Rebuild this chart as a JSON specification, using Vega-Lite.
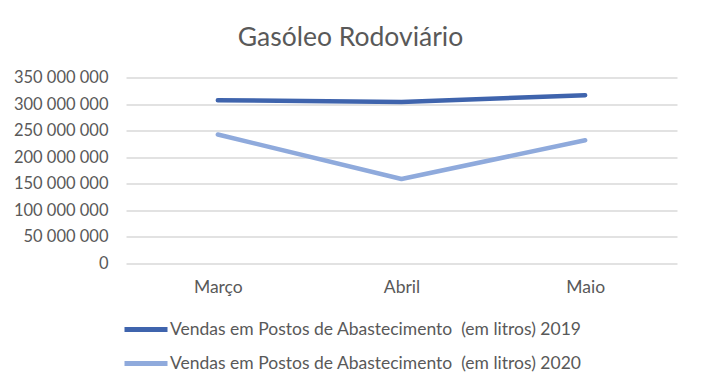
{
  "$schema": "https://vega.github.io/schema/vega-lite/v6.json",
  "width": 551,
  "height": 185.5,
  "autosize": {"type": "none"},
  "padding": {"left": 126, "top": 77.5, "right": 24, "bottom": 129},
  "background": "white",
  "title": {
    "text": "Gasóleo Rodoviário",
    "font": "Lato",
    "fontSize": 26.5,
    "fontWeight": "normal",
    "color": "#595959",
    "anchor": "middle",
    "dx": -51,
    "baseline": "alphabetic",
    "offset": -3
  },
  "data": {
    "values": [
      {"mes": "Março", "ordem": 1, "serie": "Vendas em Postos de Abastecimento \u00a0(em litros) 2019", "valor": 307000000},
      {"mes": "Abril", "ordem": 2, "serie": "Vendas em Postos de Abastecimento \u00a0(em litros) 2019", "valor": 304000000},
      {"mes": "Maio", "ordem": 3, "serie": "Vendas em Postos de Abastecimento \u00a0(em litros) 2019", "valor": 316500000},
      {"mes": "Março", "ordem": 1, "serie": "Vendas em Postos de Abastecimento \u00a0(em litros) 2020", "valor": 242500000},
      {"mes": "Abril", "ordem": 2, "serie": "Vendas em Postos de Abastecimento \u00a0(em litros) 2020", "valor": 158500000},
      {"mes": "Maio", "ordem": 3, "serie": "Vendas em Postos de Abastecimento \u00a0(em litros) 2020", "valor": 231500000}
    ]
  },
  "mark": {"type": "line", "strokeWidth": 4.5, "strokeCap": "round", "strokeJoin": "round"},
  "encoding": {
    "x": {
      "field": "mes",
      "type": "ordinal",
      "sort": ["Março", "Abril", "Maio"],
      "scale": {"paddingInner": 0, "paddingOuter": 0},
      "axis": {
        "title": null,
        "labelAngle": 0,
        "ticks": false,
        "domain": false,
        "grid": false,
        "labelFont": "Lato",
        "labelFontSize": 17.5,
        "labelColor": "#595959",
        "labelPadding": 15
      }
    },
    "y": {
      "field": "valor",
      "type": "quantitative",
      "scale": {"domain": [0, 350000000], "nice": false},
      "axis": {
        "title": null,
        "values": [0, 50000000, 100000000, 150000000, 200000000, 250000000, 300000000, 350000000],
        "labelExpr": "replace(format(datum.value, ','), /,/g, ' ')",
        "ticks": false,
        "domain": false,
        "gridColor": "#D9D9D9",
        "gridWidth": 1.3,
        "labelFont": "Lato",
        "labelFontSize": 16.5,
        "labelColor": "#595959",
        "labelPadding": 18
      }
    },
    "color": {
      "field": "serie",
      "type": "nominal",
      "scale": {"range": ["#3F64AD", "#8FAADC"]},
      "legend": {
        "title": null,
        "orient": "none",
        "direction": "vertical",
        "legendX": -4,
        "legendY": 242,
        "symbolType": "stroke",
        "symbolSize": 1849,
        "symbolStrokeWidth": 5,
        "clipHeight": 20,
        "rowPadding": 14,
        "labelOffset": 0,
        "labelFont": "Lato",
        "labelFontSize": 17.5,
        "labelColor": "#595959",
        "labelLimit": 600
      }
    }
  },
  "config": {"view": {"stroke": null}}
}
